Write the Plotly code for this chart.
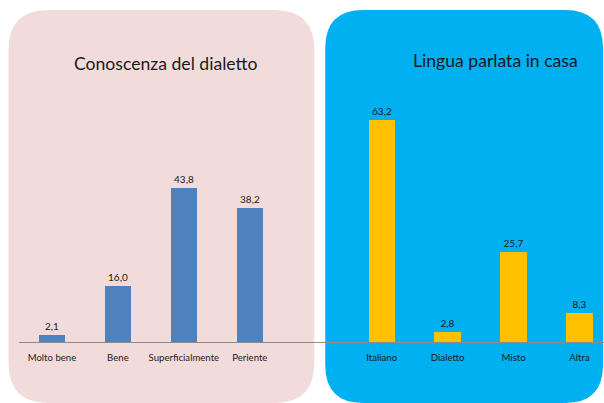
import plotly.graph_objects as go

# --- data -------------------------------------------------------------
conoscenza_cat = ["Molto bene", "Bene", "Superficialmente", "Periente"]
conoscenza_val = [2.1, 16.0, 43.8, 38.2]

lingua_cat = ["Italiano", "Dialetto", "Misto", "Altra"]
lingua_val = [63.2, 2.8, 25.7, 8.3]

title_left = "Conoscenza del dialetto"
title_right = "Lingua parlata in casa"

# --- layout constants (pixels) -----------------------------------------
W, H = 604, 403
M_L, M_R, M_T, M_B = 18.5, 0, 96, 61
PLOT_W = W - M_L - M_R
PLOT_H = H - M_T - M_B
SLOT = 66.0            # horizontal spacing of one category, px
PX_PER_UNIT = 3.51     # vertical scale, px per percentage point

FONT = "Lato, Calibri, Carlito, sans-serif"

# slot positions: left group, one empty slot, right group
left_pos = list(range(len(conoscenza_cat)))
right_pos = [len(conoscenza_cat) + 1 + i for i in range(len(lingua_cat))]

x_range = [-0.5, -0.5 + PLOT_W / SLOT]
y_range = [0, PLOT_H / PX_PER_UNIT]


def to_paper(px, py):
    return (px - M_L) / PLOT_W, (H - M_B - py) / PLOT_H


def rounded_path(x0, y0, x1, y1, r):
    """Rounded rectangle given in pixel coordinates, returned as a paper-space path."""
    pts = [
        ("M", [(x0 + r, y0)]),
        ("L", [(x1 - r, y0)]),
        ("Q", [(x1, y0), (x1, y0 + r)]),
        ("L", [(x1, y1 - r)]),
        ("Q", [(x1, y1), (x1 - r, y1)]),
        ("L", [(x0 + r, y1)]),
        ("Q", [(x0, y1), (x0, y1 - r)]),
        ("L", [(x0, y0 + r)]),
        ("Q", [(x0, y0), (x0 + r, y0)]),
    ]
    out = []
    for cmd, coords in pts:
        s = " ".join("%.5f,%.5f" % to_paper(px, py) for px, py in coords)
        out.append(f"{cmd} {s}")
    return " ".join(out) + " Z"


fig = go.Figure()

fig.add_trace(go.Bar(
    x=left_pos, y=conoscenza_val,
    marker=dict(color="#4F81BD", line=dict(width=0)),
    width=0.4,
    texttemplate="%{y:.1f}", textposition="outside",
    textfont=dict(family=FONT, size=10, color="#1a1a1a"),
    cliponaxis=False, hoverinfo="skip",
))
fig.add_trace(go.Bar(
    x=right_pos, y=lingua_val,
    marker=dict(color="#FFC000", line=dict(width=0)),
    width=0.4,
    texttemplate="%{y:.1f}", textposition="outside",
    textfont=dict(family=FONT, size=10, color="#1a1a1a"),
    cliponaxis=False, hoverinfo="skip",
))

# background panels
fig.add_shape(type="path", xref="paper", yref="paper", layer="below",
              path=rounded_path(8, 10, 314, 403, 40),
              fillcolor="#F2DCDB", line=dict(width=0))
fig.add_shape(type="path", xref="paper", yref="paper", layer="below",
              path=rounded_path(325, 10, 603, 403, 38),
              fillcolor="#00B0F0", line=dict(width=0))

# panel titles
for text, (px, py) in [(title_left, (165, 63)), (title_right, (495, 60))]:
    ax, ay = to_paper(px, py)
    fig.add_annotation(x=ax, y=ay, xref="paper", yref="paper",
                       text=text, showarrow=False,
                       xanchor="center", yanchor="middle",
                       font=dict(family=FONT, size=17.6, color="#1a1a1a"))

fig.update_layout(
    width=W, height=H,
    margin=dict(l=M_L, r=M_R, t=M_T, b=M_B, pad=0),
    paper_bgcolor="white",
    plot_bgcolor="rgba(0,0,0,0)",
    separators=",.",
    showlegend=False,
    bargap=0,
    xaxis=dict(
        range=x_range,
        tickmode="array",
        tickvals=left_pos + right_pos,
        ticktext=conoscenza_cat + lingua_cat,
        tickfont=dict(family=FONT, size=9.6, color="#1a1a1a"),
        ticks="", showgrid=False, zeroline=False,
        showline=True, linecolor="#8c8c8c", linewidth=1,
        ticklabelstandoff=6,
        layer="below traces",
        fixedrange=True,
    ),
    yaxis=dict(range=y_range, visible=False, fixedrange=True),
)

fig.write_html("out.html")
